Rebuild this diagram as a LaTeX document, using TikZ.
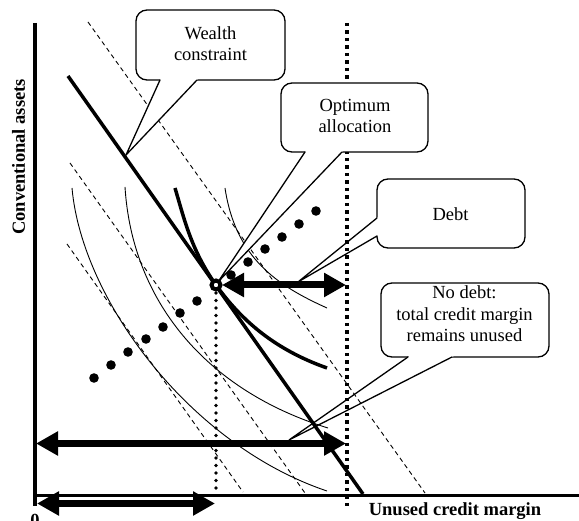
\documentclass[tikz,border=0pt]{standalone}
\usepackage{fontspec}
\setmainfont{Liberation Serif}
\usetikzlibrary{arrows.meta,calc}
\newcommand\chartfont{\fontsize{18.5}{21.5}\selectfont}
% pointer of a callout: white wedge from two base points to a tip
\newcommand\calloutwedge[3]{%
  \fill[white] ($(#2)!1.05!(#1)$) -- (#2) -- ($(#2)!1.05!(#3)$) -- cycle;
  \draw[wedge] (#1) -- (#2) -- (#3);}
\begin{document}
\begin{tikzpicture}[x=1pt,y=-1pt,
  every node/.style={font=\chartfont, inner sep=0pt},
  axis/.style={line width=3.5pt},
  budget/.style={line width=3.5pt},
  isoline/.style={line width=0.9pt, dash pattern=on 4.5pt off 3.5pt},
  indiff/.style={line width=0.9pt},
  bigarrow/.style={line width=7pt,
    {Triangle[length=22pt,width=23pt]}-{Triangle[length=22pt,width=23pt]}},
  calloutbox/.style={draw, fill=white, line width=1.3pt, rounded corners=11pt},
  wedge/.style={line width=1.3pt, line join=miter, line cap=round},
  bead/.style={circle, fill=black, minimum size=9.6pt, inner sep=0pt},
  roundDots/.style={line width=3.6pt, line cap=round, dash pattern=on 0pt off 7.5pt},
  squareDots/.style={line width=3.5pt, dash pattern=on 3.5pt off 4pt},
]
\useasboundingbox (0,0) rectangle (579,521);

% ---- callouts lying underneath the lines
\node[calloutbox, minimum width=148pt, minimum height=69pt] (debtbox) at (451,213.5) {};
\coordinate (debtA) at (377,218);
\coordinate (debtB) at (377,236);
\coordinate (debtTip) at (298,282);
\calloutwedge{debtA}{debtTip}{debtB}

\node[calloutbox, minimum width=168pt, minimum height=74pt] (ndbox) at (465,320) {};
\coordinate (ndA) at (408,357);
\coordinate (ndB) at (452,357);
\coordinate (ndTip) at (289,440);
\calloutwedge{ndA}{ndTip}{ndB}

% ---- iso-wealth lines (dashed)
\draw[isoline] (88,22) -- (425,493);
\draw[isoline] (70,163) -- (305,493);
\draw[isoline] (67,244) -- (243,492);

% ---- indifference curves (thin)
\draw[indiff] (72,188) .. controls (82,300) and (190,445) .. (327,491);
\draw[indiff] (125,187) .. controls (132,300) and (205,390) .. (328,428);
\draw[indiff] (225,188) .. controls (235.5,258) and (277,285.5) .. (327,308);

% ---- vertical guides
\draw[roundDots] (216,293) -- (216,492);
\draw[squareDots] (347,23) -- (347,507);

% ---- callouts above the lines
\node[calloutbox, minimum width=149pt, minimum height=70pt] (wcbox) at (210.5,45) {};
\coordinate (wcA) at (160,80);
\coordinate (wcB) at (197,80);
\coordinate (wcTip) at (126,155);
\calloutwedge{wcA}{wcTip}{wcB}

\node[calloutbox, minimum width=147pt, minimum height=69pt] (optbox) at (354.5,117.5) {};
\coordinate (optA) at (305,152);
\coordinate (optB) at (342,152);
\coordinate (optTip) at (218,282);
\calloutwedge{optA}{optTip}{optB}

% ---- callout texts
\node[align=center] (wctext) at (210.5,43.5) {Wealth\\constraint};
\node[align=center] (opttext) at (355,116) {Optimum\\allocation};
\node (debttext) at (450.5,214.5) {Debt};
\node[align=center] (ndtext) at (464.5,314) {No debt:\\total credit margin\\remains unused};

% ---- axes and labels
\draw[axis] (35,23) -- (35,506);
\draw[axis] (33,495.5) -- (579,495.5);
\node[font=\chartfont\bfseries, rotate=90] (ylabel) at (18.5,157) {Conventional assets};
\node[font=\chartfont\bfseries, anchor=base] (xlabel) at (455,515) {Unused credit margin};
\node[font=\chartfont\bfseries, anchor=base] (origin) at (35,526) {0};

% ---- wealth constraint and optimal indifference curve
\draw[budget] (68,76) -- (363,494);
\draw[line width=3.5pt] (175,188) .. controls (184,218) and (191,250) .. (216,285)
  .. controls (246,327) and (282,352) .. (327,368);

% ---- arrows
\coordinate (debtL) at (222,285);
\coordinate (debtR) at (346,285);
\draw[bigarrow] (debtL) -- (debtR);
\coordinate (totalL) at (36,443.5);
\coordinate (totalR) at (346,443.5);
\draw[bigarrow] (totalL) -- (totalR);
\coordinate (usedL) at (37,503.5);
\coordinate (usedR) at (215,503.5);
\draw[bigarrow] (usedL) -- (usedR);

% ---- expansion path beads
\foreach \i/\p in {1/{(94,378)},2/{(111,365)},3/{(128,352)},4/{(146,339)},
                   5/{(163,327)},6/{(180,313)},7/{(197,301)},8/{(231,275)},
                   9/{(248,262)},10/{(265,249)},11/{(282,237)},12/{(299,224)},
                   13/{(316,211)}}
  \node[bead] (bead\i) at \p {};

% ---- optimum point
\node[circle, draw, fill=white, line width=4pt, minimum size=9pt, inner sep=0pt] (optpt) at (216,285) {};
\end{tikzpicture}
\end{document}
